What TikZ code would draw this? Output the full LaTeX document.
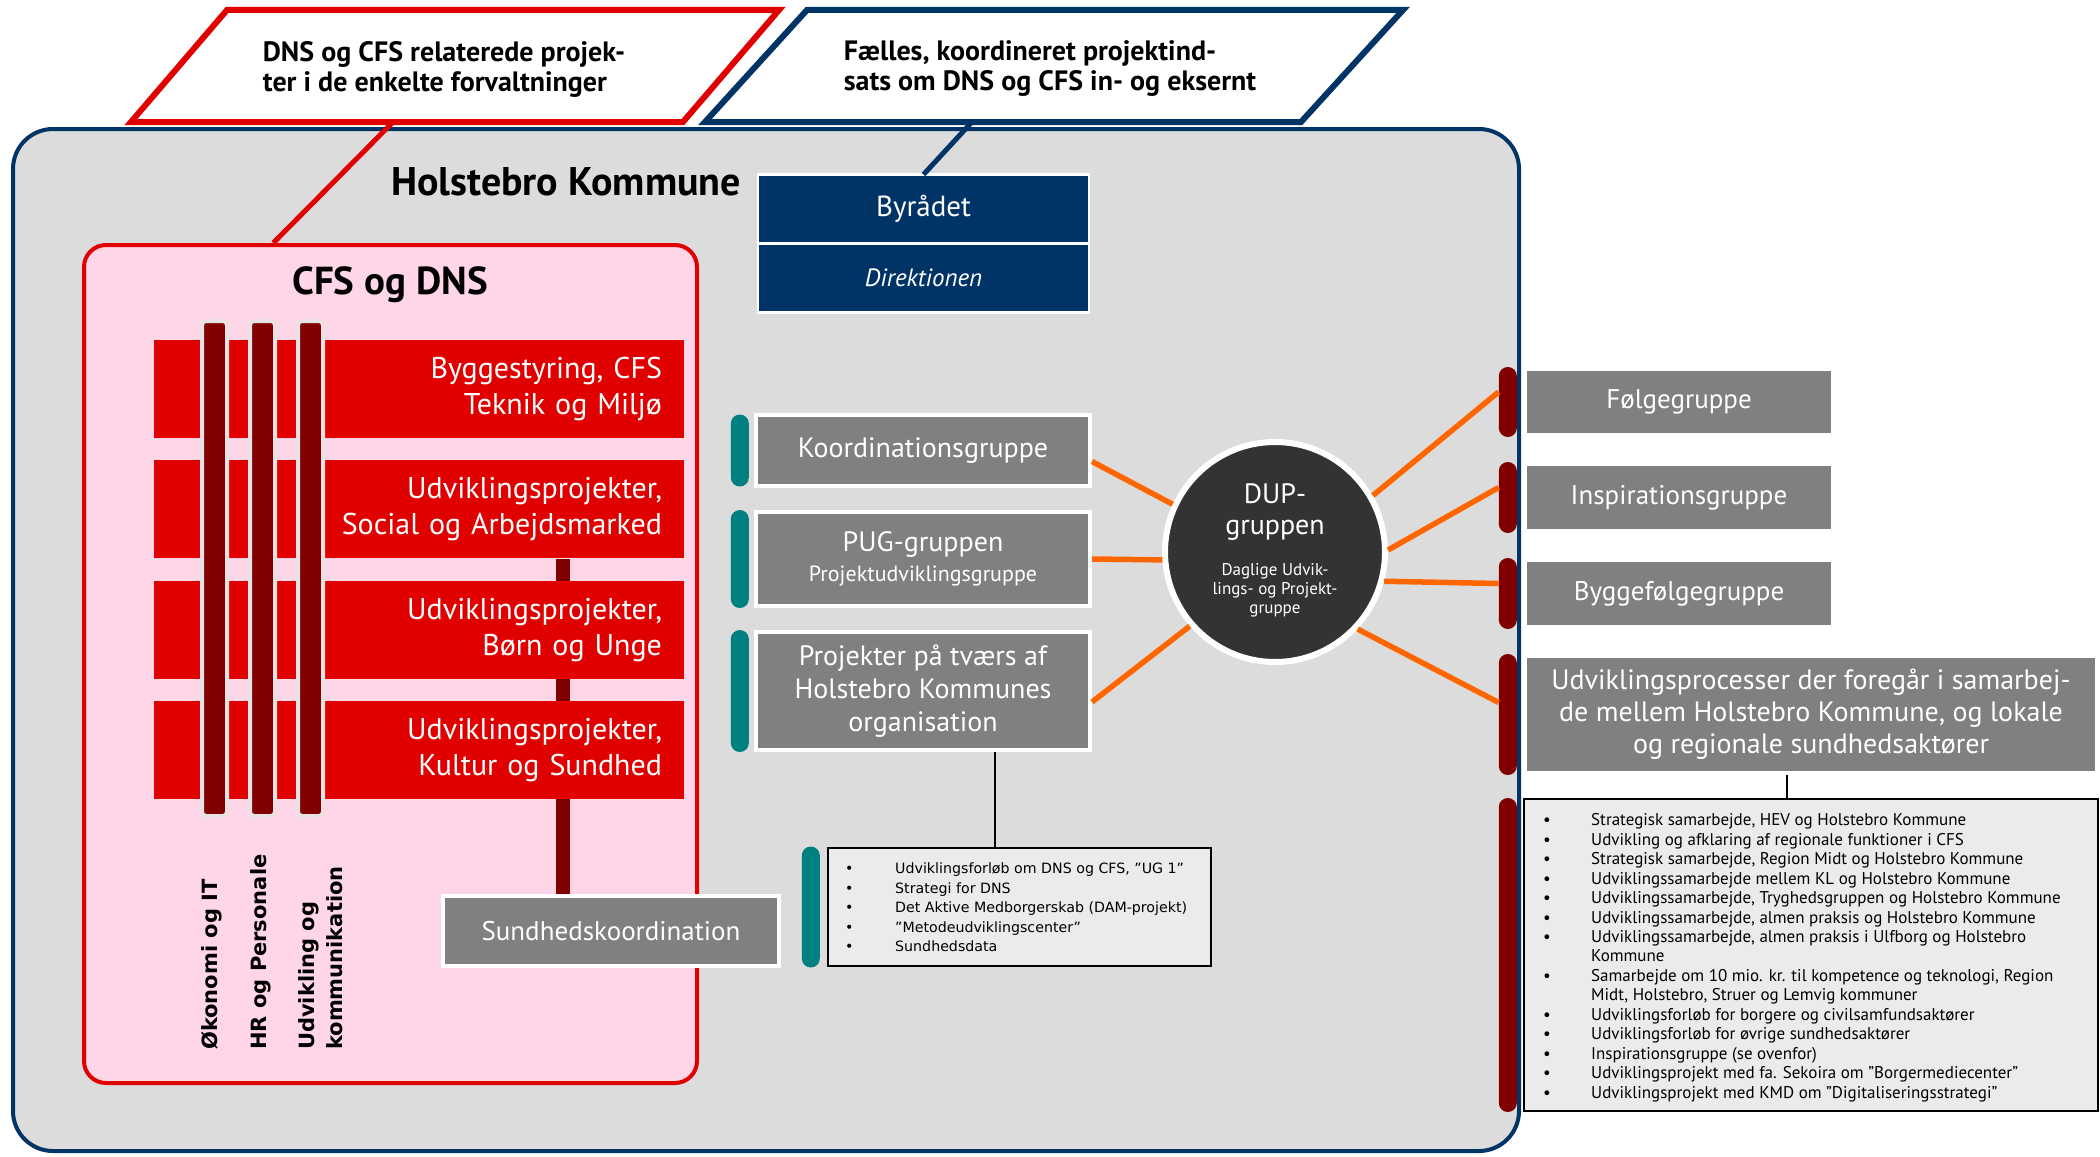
\documentclass[tikz,border=0pt]{standalone}
\usepackage{fontspec}
\setmainfont{PT Sans}
\newfontfamily\verdfont{DejaVu Sans}
\usetikzlibrary{positioning,calc}
\pgfdeclarelayer{back}
\pgfdeclarelayer{links}
\pgfsetlayers{back,links,main}

\definecolor{kommunegray}{RGB}{220,220,220}
\definecolor{navyc}{RGB}{0,51,102}
\definecolor{redc}{RGB}{224,0,0}
\definecolor{darkredc}{RGB}{128,0,0}
\definecolor{pinkc}{RGB}{255,213,232}
\definecolor{boxgray}{RGB}{128,128,128}
\definecolor{tealc}{RGB}{0,128,128}
\definecolor{orangec}{RGB}{255,102,0}
\definecolor{dupgray}{RGB}{51,51,51}
\definecolor{listgray}{RGB}{235,235,235}
\definecolor{barrim}{RGB}{232,226,229}

\newcommand{\setfs}[2]{\fontsize{#1}{#2}\selectfont}

\begin{document}
\begin{tikzpicture}[x=1pt,y=-1pt,
    graybox/.style={fill=boxgray, draw=white, line width=4pt, text=white, inner sep=0pt, align=center, font=\setfs{28}{33}},
    pill/.style={rounded corners=9pt, minimum width=18pt, inner sep=0pt},
    redrow/.style={fill=redc, minimum width=530pt, minimum height=98pt, text width=486pt, inner xsep=22pt, inner ysep=0pt, align=right, text=white, font=\setfs{30}{36}},
    staff/.style={fill=darkredc, draw=barrim, line width=4pt, rounded corners=4pt, minimum width=25pt, minimum height=495pt, inner sep=0pt},
    vlabel/.style={rotate=90, anchor=north west, inner sep=0pt, align=left, font=\verdfont\bfseries\setfs{21}{28}},
    orangeline/.style={draw=orangec, line width=5.5pt},
    listbox/.style={fill=listgray, draw=black, line width=2pt, inner sep=0pt},
    bullets/.style={anchor=north west, inner sep=0pt},
    headline/.style={font=\bfseries\setfs{28}{30}, align=left, inner sep=0pt}]
\useasboundingbox (0,0) rectangle (2100,1156);

% frames
\begin{pgfonlayer}{back}
\node[draw=navyc, fill=kommunegray, line width=4pt, rounded corners=40pt, minimum width=1506pt, minimum height=1022pt] (kommune) at (766,640) {};
\node[draw=redc, fill=pinkc, line width=4pt, rounded corners=22pt, minimum width=613pt, minimum height=838pt] (cfs) at (390.5,664) {};
\end{pgfonlayer}

% the two headlines
\draw[redc, line width=6pt, fill=white] (227,10) -- (779,10) -- (683,122) -- (131,122) -- cycle;
\draw[navyc, line width=6pt, fill=white] (807,10) -- (1403,10) -- (1301,122) -- (705,122) -- cycle;
\node[headline] (relproj) at (444,69) {DNS og CFS relaterede projek-\\ter i de enkelte forvaltninger};
\node[headline] (faelles) at (1050,69) {Fælles, koordineret projektind-\\sats om DNS og CFS in- og eksernt};
\coordinate (relfoot) at (392,123);
\coordinate (faelfoot) at (971,123);

\node[font=\bfseries\setfs{40}{42}] (hk) at (566,182) {Holstebro Kommune};
\node[font=\bfseries\setfs{39}{42}] (cfstitle) at (390,285) {CFS og DNS};

% Byraadet / Direktionen
\node[fill=navyc, draw=white, line width=2.5pt, outer sep=0pt, minimum width=331pt, minimum height=69pt, text=white, font=\setfs{29}{33}] (byraadet) at (923.5,209) {Byrådet};
\node[fill=navyc, draw=white, line width=2.5pt, outer sep=0pt, minimum width=331pt, minimum height=69pt, text=white, font=\itshape\setfs{25}{30}, below=0pt of byraadet] (direktion) {Direktionen};

\draw[redc, line width=5pt] (relfoot) -- ($(cfs.north west)!0.31!(cfs.north east)$);
\draw[navyc, line width=5pt] (faelfoot) -- (byraadet.north);

% forvaltninger
\node[redrow] (row1) at (419,389) {Byggestyring, CFS\\Teknik og Miljø};
\node[redrow, below=22pt of row1] (row2) {Udviklingsprojekter,\\Social og Arbejdsmarked};
\node[redrow, below=22pt of row2] (row3) {Udviklingsprojekter,\\Børn og Unge};
\node[redrow, below=22pt of row3] (row4) {Udviklingsprojekter,\\Kultur og Sundhed};

\node[staff] (staff1) at (214.5,568.5) {};
\node[staff] (staff2) at (262.5,568.5) {};
\node[staff] (staff3) at (310.5,568.5) {};
\node[vlabel] (oekonomi) at (201,1050) {Økonomi og IT};
\node[vlabel] (hr) at (250,1050) {HR og Personale};
\node[vlabel] (udvkom) at (298,1050) {Udvikling og\\kommunikation};

\node[graybox, minimum width=336pt, minimum height=70pt, font=\setfs{27}{33}] (sund) at (611,931) {Sundhedskoordination};
\coordinate (sundtop) at ([xshift=-48pt]sund.north);
\begin{pgfonlayer}{links}
\draw[darkredc, line width=14pt] (sundtop) -- (sundtop |- row2.south);
\end{pgfonlayer}

% groups in the middle
\node[graybox, minimum width=334pt, minimum height=71pt] (koord) at (923,450.5) {Koordinationsgruppe};
\node[graybox, minimum width=334pt, minimum height=94pt, below=22pt of koord, font=\setfs{28}{30}] (pug) {PUG-gruppen\\{\setfs{22}{26}Projektudviklingsgruppe}};
\node[graybox, minimum width=334pt, minimum height=118pt, below=22pt of pug] (proj) {Projekter på tværs af\\Holstebro Kommunes\\organisation};
\node[pill, fill=tealc, minimum height=72pt, left=5pt of koord] (kbar) {};
\node[pill, fill=tealc, minimum height=98pt, left=5pt of pug] (pbar) {};
\node[pill, fill=tealc, minimum height=122pt, left=5pt of proj] (prbar) {};

\node[listbox, minimum width=383pt, minimum height=118pt] (midlist) at (1019.5,907) {};
\node[pill, fill=tealc, minimum height=121pt, left=7pt of midlist] (mbar) {};
\node[bullets, font=\verdfont\setfs{14.2}{19.5}] (midtxt) at (845,860) {\begin{tabular}{@{}p{50pt}@{}l@{}}
\textbullet & Udviklingsforløb om DNS og CFS, ”UG 1”\\
\textbullet & Strategi for DNS\\
\textbullet & Det Aktive Medborgerskab (DAM-projekt)\\
\textbullet & ”Metodeudviklingscenter”\\
\textbullet & Sundhedsdata
\end{tabular}};
\coordinate (projfoot) at ([xshift=72pt]proj.south);
\draw[line width=1.5pt] (projfoot) -- (projfoot |- midlist.north);

% DUP
\node[circle, fill=dupgray, draw=white, line width=6pt, minimum size=220pt, inner sep=0pt] (dup) at (1275,552) {};
\node[text=white, align=center, font=\setfs{28}{31}] (duptitle) at (1275,512) {DUP-\\gruppen};
\node[text=white, align=center, font=\setfs{17}{19}] (dupsub) at (1275,590) {Daglige Udvik-\\lings- og Projekt-\\gruppe};

% right side
\node[graybox, minimum width=308pt, minimum height=66pt, font=\setfs{27}{33}] (folge) at (1679,402) {Følgegruppe};
\node[graybox, minimum width=308pt, minimum height=67pt, font=\setfs{27}{33}] (insp) at (1679,497.5) {Inspirationsgruppe};
\node[graybox, minimum width=308pt, minimum height=67pt, font=\setfs{27}{33}] (bygge) at (1679,593.5) {Byggefølgegruppe};
\node[graybox, minimum width=572pt, minimum height=117pt, font=\setfs{28}{32}] (udv) at (1811,714.5) {Udviklingsprocesser der foregår i samarbej-\\de mellem Holstebro Kommune, og lokale\\og regionale sundhedsaktører};
\node[pill, fill=darkredc, minimum height=70pt, left=6pt of folge] (fbar) {};
\node[pill, fill=darkredc, minimum height=71pt, left=6pt of insp] (ibar) {};
\node[pill, fill=darkredc, minimum height=71pt, left=6pt of bygge] (bbar) {};
\node[pill, fill=darkredc, minimum height=121pt, left=6pt of udv] (ubar) {};

\node[listbox, minimum width=574pt, minimum height=312pt] (rlist) at (1811,955) {};
\node[pill, fill=darkredc, minimum height=314pt, left=6pt of rlist] (rlbar) {};
\node[bullets, font=\setfs{17}{19.45}] (rtxt) at (1543,812) {\begin{tabular}{@{}p{48pt}@{}l@{}}
\textbullet & Strategisk samarbejde, HEV og Holstebro Kommune\\
\textbullet & Udvikling og afklaring af regionale funktioner i CFS\\
\textbullet & Strategisk samarbejde, Region Midt og Holstebro Kommune\\
\textbullet & Udviklingssamarbejde mellem KL og Holstebro Kommune\\
\textbullet & Udviklingssamarbejde, Tryghedsgruppen og Holstebro Kommune\\
\textbullet & Udviklingssamarbejde, almen praksis og Holstebro Kommune\\
\textbullet & Udviklingssamarbejde, almen praksis i Ulfborg og Holstebro\\
 & Kommune\\
\textbullet & Samarbejde om 10 mio. kr. til kompetence og teknologi, Region\\
 & Midt, Holstebro, Struer og Lemvig kommuner\\
\textbullet & Udviklingsforløb for borgere og civilsamfundsaktører\\
\textbullet & Udviklingsforløb for øvrige sundhedsaktører\\
\textbullet & Inspirationsgruppe (se ovenfor)\\
\textbullet & Udviklingsprojekt med fa. Sekoira om ”Borgermediecenter”\\
\textbullet & Udviklingsprojekt med KMD om ”Digitaliseringsstrategi”
\end{tabular}};
\coordinate (udvfoot) at ([xshift=-24pt]udv.south);
\draw[line width=1.5pt] (udvfoot) -- (udvfoot |- rlist.north);

% orange links to DUP
\draw[orangeline] ([yshift=-11pt]koord.east) -- (dup.155);
\draw[orangeline] (pug.east) -- (dup.184);
\draw[orangeline] ([yshift=-11pt]proj.east) -- (dup.221);
\draw[orangeline] (dup.30) -- ([yshift=10pt]fbar.west);
\draw[orangeline] (dup.1) -- ([yshift=10pt]ibar.west);
\draw[orangeline] (dup.-15) -- ([yshift=10pt]bbar.west);
\draw[orangeline] (dup.-43) -- ([yshift=12pt]ubar.west);
\end{tikzpicture}
\end{document}
